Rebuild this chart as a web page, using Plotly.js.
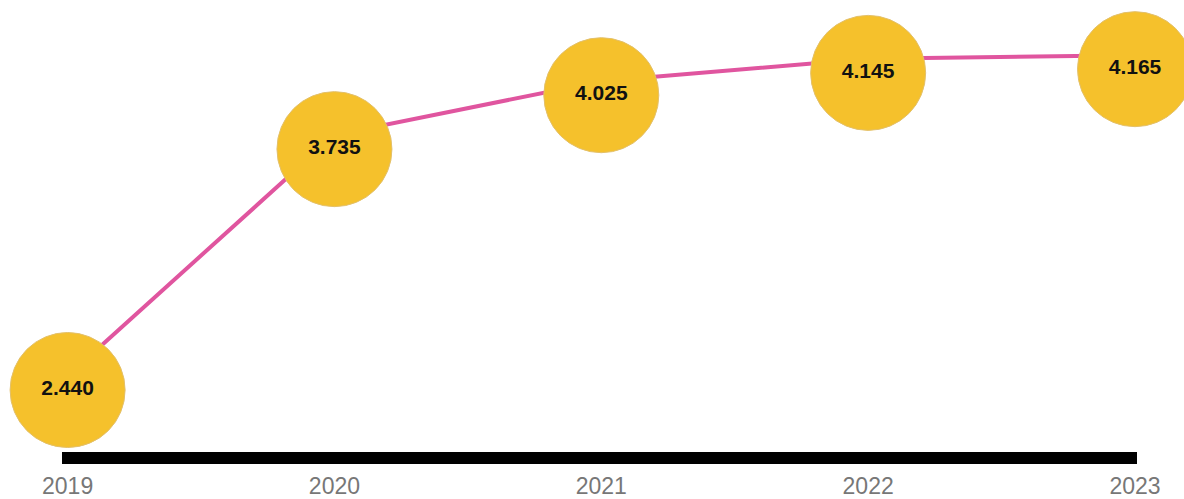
<!DOCTYPE html>
<html>
<head>
<meta charset="utf-8">
<script src="https://cdn.plot.ly/plotly-3.0.1.min.js"></script>
<style>html,body{margin:0;padding:0;background:#fff;}#chart{width:1184px;height:499px;}</style>
</head>
<body>
<div id="chart"></div>
<script>
var years = ['2019', '2020', '2021', '2022', '2023'];
var xValues = [2019, 2020, 2021, 2022, 2023];
var values = [2.440, 3.735, 4.025, 4.145, 4.165];

var lineTrace = {
  x: xValues,
  y: values,
  type: 'scatter',
  mode: 'lines',
  line: {color: '#e0559f', width: 4, shape: 'linear'},
  hoverinfo: 'none'
};

var markerTrace = {
  x: xValues,
  y: values,
  yaxis: 'y2',
  type: 'scatter',
  mode: 'markers+text',
  marker: {size: 115, color: '#f5c12c', line: {color: '#e3c06a', width: 1}, opacity: 1},
  texttemplate: '%{y:.3f}',
  textposition: 'middle center',
  textfont: {family: 'Liberation Sans, Arial, sans-serif', size: 21, color: '#111111', weight: 'bold'},
  cliponaxis: false,
  hoverinfo: 'none'
};

var layout = {
  width: 1184,
  height: 499,
  margin: {l: 62, r: 47, t: 0, b: 47},
  paper_bgcolor: '#ffffff',
  plot_bgcolor: '#ffffff',
  showlegend: false,
  xaxis: {
    range: [2018.979, 2023.0075],
    tickvals: xValues,
    ticktext: years,
    showgrid: false,
    zeroline: false,
    showline: true,
    linecolor: '#000000',
    linewidth: 12,
    ticks: '',
    ticklabelstandoff: 2,
    tickfont: {family: 'Liberation Sans, Arial, sans-serif', size: 23, color: '#777777'},
    fixedrange: true
  },
  yaxis: {
    range: [2.0314, 4.4615],
    visible: false,
    showgrid: false,
    zeroline: false,
    fixedrange: true
  },
  yaxis2: {
    range: [2.1067, 4.5368],
    overlaying: 'y',
    visible: false,
    showgrid: false,
    zeroline: false,
    fixedrange: true
  }
};

Plotly.newPlot('chart', [lineTrace, markerTrace], layout, {displayModeBar: false, staticPlot: true});
</script>
</body>
</html>
